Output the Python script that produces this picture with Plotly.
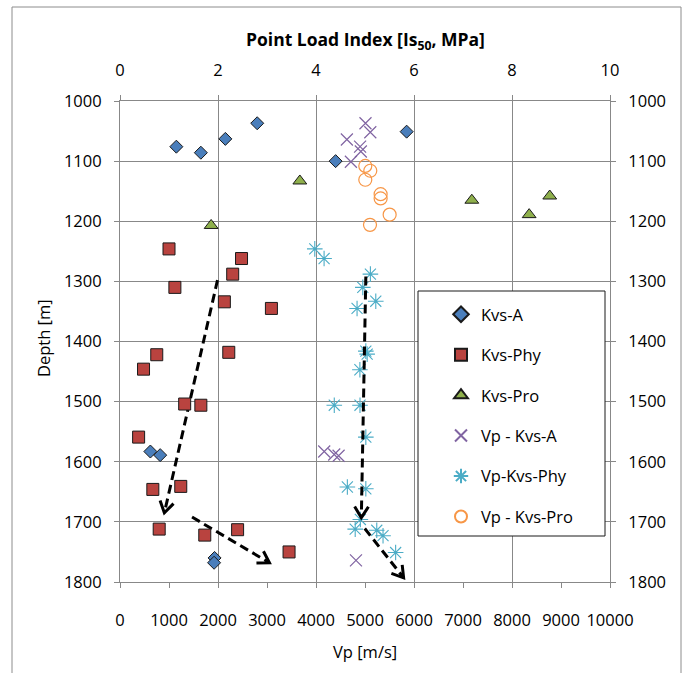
import math
import plotly.graph_objects as go

# ---------------- data ----------------
# Point load index Is50 [MPa] against depth [m]
kvs_a_is50 = [1.15, 1.65, 2.15, 2.80, 4.40, 5.85, 0.62, 0.82, 1.93, 1.92]
kvs_a_depth = [1076, 1086, 1063, 1037, 1100, 1051, 1583, 1589, 1760, 1768]

kvs_phy_is50 = [1.00, 2.48, 2.30, 1.12, 2.13, 3.09, 0.75, 2.22, 0.48,
                1.32, 1.65, 0.38, 0.67, 1.24, 0.80, 1.73, 2.40, 3.45]
kvs_phy_depth = [1246, 1262, 1288, 1310, 1334, 1345, 1422, 1418, 1446,
                 1504, 1506, 1559, 1646, 1641, 1712, 1722, 1713, 1750]

kvs_pro_is50 = [1.86, 3.67, 7.18, 8.77, 8.35]
kvs_pro_depth = [1207, 1133, 1165, 1158, 1189]

# P-wave velocity Vp [m/s] against depth [m]
vp_kvs_a = [5010, 5108, 4630, 4900, 4915, 4712, 4168, 4372, 4461, 4816]
vp_kvs_a_depth = [1037, 1052, 1064, 1076, 1084, 1101, 1583, 1588, 1590, 1764]

vp_kvs_phy = [3975, 4165, 5110, 4955, 5220, 4838, 5017, 5044, 4896, 4373,
              4898, 5017, 4640, 5017, 4905, 4800, 5240, 5368, 5625]
vp_kvs_phy_depth = [1246, 1262, 1288, 1310, 1333, 1345, 1416, 1421, 1447, 1506,
                    1506, 1559, 1642, 1645, 1696, 1712, 1714, 1723, 1751]

vp_kvs_pro = [5006, 5108, 5006, 5319, 5319, 5503, 5102]
vp_kvs_pro_depth = [1108, 1116, 1131, 1155, 1162, 1189, 1206]

# trend arrows (Vp, depth): tail -> tip
arrow_tail_vp = [1990, 1470, 5017, 4995]
arrow_tail_depth = [1298, 1692, 1292, 1711]
arrow_tip_vp = [905, 3050, 4925, 5788]
arrow_tip_depth = [1685, 1768, 1693, 1793]

vp_ticks = list(range(0, 10001, 1000))
is50_ticks = list(range(0, 11, 2))
depth_ticks = list(range(1000, 1801, 100))

# ---------------- layout constants ----------------
W, H = 690, 673
ML, MR, MT, MB = 120, 80, 101, 91
PLOT_W = W - ML - MR
PLOT_H = H - MT - MB
VP_RANGE = (0, 10000)
DEPTH_RANGE = (1800, 1000)

FONT = "Open Sans"
FS = 16.5
GRID = "#888888"
BLACK = "#000000"


def px_x(px):
    """Horizontal pixel position -> paper coordinate."""
    return (px - ML) / PLOT_W


def px_y(py):
    """Vertical pixel position (from top) -> paper coordinate."""
    return (H - MB - py) / PLOT_H


x_scale = PLOT_W / (VP_RANGE[1] - VP_RANGE[0])          # px per m/s
y_scale = PLOT_H / (DEPTH_RANGE[0] - DEPTH_RANGE[1])    # px per m (downwards)

fig = go.Figure()

# point load index series (top axis)
fig.add_trace(go.Scatter(
    x=kvs_a_is50, y=kvs_a_depth, xaxis="x2", yaxis="y", mode="markers",
    name="Kvs-A", legendgroup="a",
    marker=dict(symbol="diamond", size=10, color="#4a7ebb",
                line=dict(color="#1a1a1a", width=1))))
fig.add_trace(go.Scatter(
    x=kvs_phy_is50, y=kvs_phy_depth, xaxis="x2", yaxis="y", mode="markers",
    name="Kvs-Phy", legendgroup="b",
    marker=dict(symbol="square", size=12, color="#b9433f",
                line=dict(color="#1a1a1a", width=1))))
fig.add_trace(go.Scatter(
    x=kvs_pro_is50, y=kvs_pro_depth, xaxis="x2", yaxis="y", mode="markers",
    name="Kvs-Pro", legendgroup="c",
    marker=dict(symbol="triangle-up", size=12, color="#8fb04c",
                line=dict(color="#1a1a1a", width=1))))

# P-wave velocity series (bottom axis)
fig.add_trace(go.Scatter(
    x=vp_kvs_a, y=vp_kvs_a_depth, xaxis="x", yaxis="y", mode="markers",
    name="Vp - Kvs-A", legendgroup="d",
    marker=dict(symbol="x-thin-open", size=12, color="#8064a2",
                line=dict(width=1.2))))
fig.add_trace(go.Scatter(
    x=vp_kvs_phy, y=vp_kvs_phy_depth, xaxis="x", yaxis="y", mode="markers",
    name="Vp-Kvs-Phy", legendgroup="e",
    marker=dict(symbol="asterisk-open", size=13, color="#4bacc6",
                line=dict(width=1.1))))
fig.add_trace(go.Scatter(
    x=vp_kvs_pro, y=vp_kvs_pro_depth, xaxis="x", yaxis="y", mode="markers",
    name="Vp - Kvs-Pro", legendgroup="f",
    marker=dict(symbol="circle-open", size=13, color="#f79646",
                line=dict(width=1.2))))

# dashed trend arrows with open V heads
shaft_x, shaft_y, head_x, head_y = [], [], [], []
HEAD_LEN = 13
HEAD_ANGLE = math.radians(32)
for x0, y0, x1, y1 in zip(arrow_tail_vp, arrow_tail_depth,
                          arrow_tip_vp, arrow_tip_depth):
    shaft_x += [x0, x1, None]
    shaft_y += [y0, y1, None]
    ang = math.atan2((y1 - y0) * y_scale, (x1 - x0) * x_scale)
    wings = []
    for s in (1, -1):
        a = ang + s * HEAD_ANGLE
        wings.append((x1 - HEAD_LEN * math.cos(a) / x_scale,
                      y1 - HEAD_LEN * math.sin(a) / y_scale))
    head_x += [wings[0][0], x1, wings[1][0], None]
    head_y += [wings[0][1], y1, wings[1][1], None]

fig.add_trace(go.Scatter(
    x=shaft_x, y=shaft_y, xaxis="x", yaxis="y", mode="lines",
    line=dict(color=BLACK, width=3, dash="9px,5px"),
    showlegend=False, hoverinfo="skip"))
fig.add_trace(go.Scatter(
    x=head_x, y=head_y, xaxis="x", yaxis="y", mode="lines",
    line=dict(color=BLACK, width=3),
    showlegend=False, hoverinfo="skip"))

# invisible carrier so the right-hand depth axis is drawn
fig.add_trace(go.Scatter(
    x=[None], y=[None], xaxis="x", yaxis="y2", mode="markers",
    showlegend=False, hoverinfo="skip"))

tick_font = dict(family=FONT, size=FS, color=BLACK)
axis_common = dict(showline=True, linecolor=GRID, linewidth=1,
                   ticks="outside", ticklen=5, tickcolor=GRID,
                   zeroline=False, tickfont=tick_font, tickangle=0)

fig.update_layout(
    width=W, height=H,
    margin=dict(l=ML, r=MR, t=MT, b=MB, pad=0, autoexpand=False),
    paper_bgcolor="white", plot_bgcolor="white",
    font=dict(family=FONT, size=FS, color=BLACK),
    xaxis=dict(range=list(VP_RANGE), tickvals=vp_ticks,
               ticktext=[str(v) for v in vp_ticks], showgrid=False,
               anchor="y", ticklabelstandoff=18, **axis_common),
    xaxis2=dict(range=[0, 10], tickvals=is50_ticks,
                ticktext=[str(v) for v in is50_ticks], overlaying="x",
                side="top", anchor="y", showgrid=True, gridcolor=GRID,
                gridwidth=1, ticklabelstandoff=12, **axis_common),
    yaxis=dict(range=list(DEPTH_RANGE), tickvals=depth_ticks,
               ticktext=[str(v) for v in depth_ticks], showgrid=True,
               gridcolor=GRID, gridwidth=1, ticklabelstandoff=9,
               **axis_common),
    yaxis2=dict(range=list(DEPTH_RANGE), tickvals=depth_ticks,
                ticktext=[str(v) for v in depth_ticks],
                overlaying="y", side="right", anchor="x", showgrid=False,
                ticklabelstandoff=9, **axis_common),
    legend=dict(xref="paper", yref="paper",
                x=px_x(441), y=px_y(297), xanchor="left", yanchor="top",
                bgcolor="rgba(0,0,0,0)", borderwidth=0,
                tracegroupgap=16, font=dict(family=FONT, size=FS),
                itemsizing="constant"),
    shapes=[
        # legend frame
        dict(type="rect", xref="paper", yref="paper",
             x0=px_x(418), x1=px_x(605), y0=px_y(536), y1=px_y(291),
             line=dict(color="#1a1a1a", width=1), fillcolor="white",
             layer="above"),
        # chart border
        dict(type="rect", xref="paper", yref="paper",
             x0=px_x(12), x1=px_x(681), y0=px_y(690), y1=px_y(7),
             line=dict(color="#8c8c8c", width=1), fillcolor="rgba(0,0,0,0)",
             layer="above"),
    ],
    annotations=[
        dict(text="<b>Point Load Index [Is<sub>50</sub>, MPa]</b>",
             xref="paper", yref="paper", x=px_x(365), y=px_y(40),
             xanchor="center", yanchor="middle", showarrow=False,
             font=dict(family=FONT, size=17.5, color=BLACK)),
        dict(text="Vp [m/s]", xref="paper", yref="paper",
             x=px_x(365), y=px_y(651), xanchor="center", yanchor="middle",
             showarrow=False, font=dict(family=FONT, size=FS, color=BLACK)),
        dict(text="Depth [m]", xref="paper", yref="paper",
             x=px_x(43), y=px_y(338), xanchor="center", yanchor="middle",
             textangle=-90, showarrow=False,
             font=dict(family=FONT, size=FS, color=BLACK)),
    ],
)

fig.write_html("out.html")
